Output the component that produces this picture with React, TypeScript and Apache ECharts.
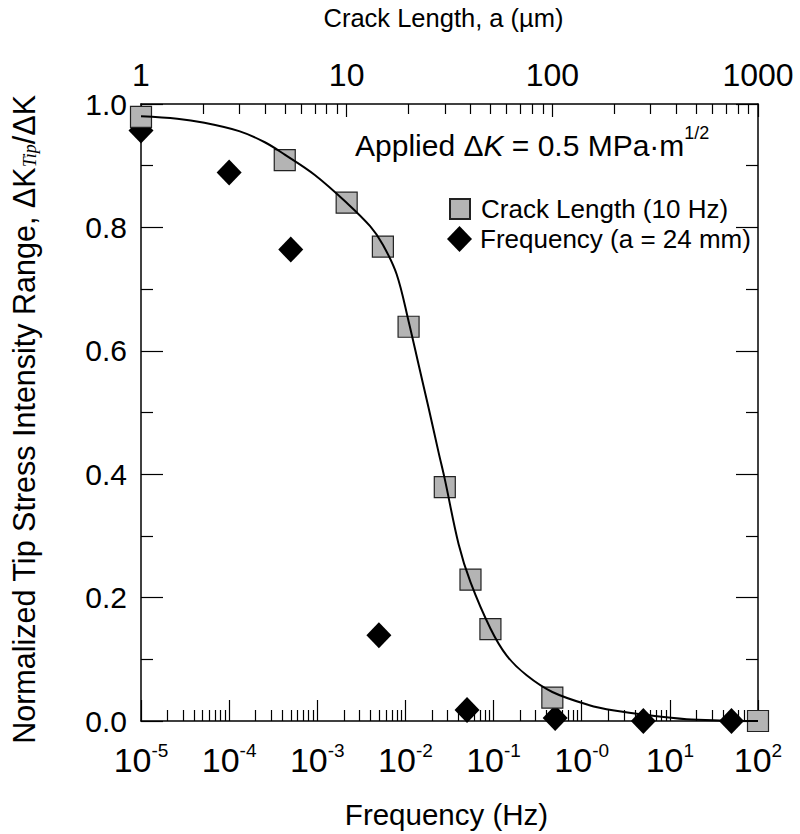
import React, { useEffect, useRef } from 'react';
import * as echarts from 'echarts';

// Crack-length data (top axis, µm) – squares
const crackLength = [1, 5, 10, 15, 20, 30, 40, 50, 100, 1000];
const crackKRatio = [0.979, 0.909, 0.84, 0.769, 0.639, 0.379, 0.229, 0.149, 0.038, 0.0];

// Frequency data (bottom axis, Hz) – diamonds
const frequency = [1e-5, 1e-4, 5e-4, 5e-3, 0.05, 0.5, 5, 50];
const freqKRatio = [0.957, 0.889, 0.764, 0.139, 0.018, 0.005, 0.0, 0.0];

// Fitted curve (vs crack length)
const fitCrackLength = [1, 1.5, 2, 3, 4, 5, 7, 10, 13, 15, 17.5, 20, 22.5, 25, 28, 30, 35, 40, 50, 60, 75, 100, 150, 200, 300, 450, 650, 1000];
const fitKRatio = [0.98, 0.976, 0.97, 0.956, 0.938, 0.918, 0.885, 0.84, 0.802, 0.772, 0.724, 0.648, 0.574, 0.508, 0.435, 0.392, 0.287, 0.225, 0.15, 0.106, 0.074, 0.047, 0.026, 0.017, 0.009, 0.003, 0.001, 0.0];

// Axis tick settings
const bottomDecades = [-5, -4, -3, -2, -1, 0, 1];
const topDecades = [0, 1, 2];
const minorMultipliers = [2, 3, 4, 5, 6, 7, 8, 9];

const FONT = '"Liberation Sans", Arial, Helvetica, sans-serif';
const SERIF = '"Liberation Serif", "Times New Roman", serif';

function minorExps(decades: number[]) {
  const out: number[] = [];
  decades.forEach((k) => minorMultipliers.forEach((m) => out.push(k + Math.log10(m))));
  return out;
}

export default function App() {
  const ref = useRef<HTMLDivElement>(null);
  useEffect(() => {
    if (!ref.current) return;
    const chart = echarts.init(ref.current, null, { renderer: 'svg' });
    const black = '#000';
    const gridBox = { left: 128, top: 93, width: 630, height: 629 };
    const axisLine = { show: true, onZero: false, lineStyle: { color: black, width: 1.5 } };
    const option: any = {
      animation: false,
      backgroundColor: '#fff',
      textStyle: { fontFamily: FONT, color: black },
      grid: { ...gridBox, containLabel: false },
      legend: [
        {
          data: [{ name: 'Crack Length (10 Hz)', icon: 'rect' }],
          left: 444,
          top: 191,
          itemWidth: 20,
          itemHeight: 20,
          textStyle: { fontFamily: FONT, fontSize: 26, color: black, padding: [0, 0, 0, 6] },
        },
        {
          data: [{ name: 'Frequency (a = 24 mm)', icon: 'diamond' }],
          left: 442,
          top: 221,
          itemWidth: 25,
          itemHeight: 26,
          textStyle: { fontFamily: FONT, fontSize: 26, color: black, padding: [0, 0, 0, 3] },
        },
      ],
      xAxis: [
        {
          type: 'log',
          logBase: 10,
          min: 1e-5,
          max: 100,
          interval: 1,
          position: 'bottom',
          name: 'Frequency (Hz)',
          nameLocation: 'middle',
          nameGap: 78,
          nameTextStyle: { fontFamily: FONT, fontSize: 29.5, color: black, padding: [0, 6, 0, 0] },
          axisLine,
          axisTick: { show: true, inside: true, length: 21, lineStyle: { color: black, width: 1.2 } },
          splitLine: { show: false },
          axisLabel: {
            margin: 20,
            formatter: (v: number) => {
              const e = Math.round(Math.log10(v));
              return `{b|10}{s|${e === 0 ? '-0' : e}}`;
            },
            rich: {
              b: { fontFamily: FONT, fontSize: 34, color: black, lineHeight: 36, verticalAlign: 'bottom' },
              s: { fontFamily: FONT, fontSize: 19, color: black, lineHeight: 36, verticalAlign: 'top' },
            },
          },
        },
        {
          type: 'log',
          logBase: 10,
          min: 1,
          max: 1000,
          interval: 1,
          position: 'top',
          name: 'Crack Length, a (µm)',
          nameLocation: 'middle',
          nameGap: 73,
          nameTextStyle: { fontFamily: FONT, fontSize: 25.5, color: black, padding: [0, 12, 0, 0] },
          axisLine,
          axisTick: { show: true, inside: true, length: 13, lineStyle: { color: black, width: 1.2 } },
          splitLine: { show: false },
          axisLabel: {
            margin: 13,
            fontFamily: FONT,
            fontSize: 32,
            color: black,
            formatter: (v: number) => String(Math.round(v)),
          },
        },
        {
          type: 'value',
          min: -5,
          max: 2,
          position: 'bottom',
          axisLine: { show: false, onZero: false },
          axisLabel: { show: false },
          splitLine: { show: false },
          axisTick: {
            show: true,
            inside: true,
            length: 11,
            customValues: minorExps(bottomDecades),
            lineStyle: { color: black, width: 1.2 },
          },
        },
        {
          type: 'value',
          min: 0,
          max: 3,
          position: 'top',
          axisLine: { show: false, onZero: false },
          axisLabel: { show: false },
          splitLine: { show: false },
          axisTick: {
            show: true,
            inside: true,
            length: 10,
            customValues: minorExps(topDecades),
            lineStyle: { color: black, width: 1.2 },
          },
        },
      ],
      yAxis: [
        {
          type: 'value',
          min: 0,
          max: 1,
          interval: 0.2,
          position: 'left',
          name: '{n|Normalized Tip Stress Intensity Range, ΔK}{sub|Tip}{n|/ΔK}',
          nameLocation: 'middle',
          nameRotate: 90,
          nameGap: 102,
          nameTextStyle: {
            padding: [0, 14, 0, 0],
            rich: {
              n: { fontFamily: FONT, fontSize: 30.5, color: black, lineHeight: 34, verticalAlign: 'bottom' },
              sub: { fontFamily: SERIF, fontSize: 18, fontStyle: 'italic', color: black, lineHeight: 42, verticalAlign: 'bottom' },
            },
          },
          axisLine,
          axisTick: { show: true, inside: true, length: 22, lineStyle: { color: black, width: 1.2 } },
          minorTick: { show: true, splitNumber: 2, length: 12, lineStyle: { color: black, width: 1.2 } },
          splitLine: { show: false },
          minorSplitLine: { show: false },
          axisLabel: {
            margin: 14,
            fontFamily: FONT,
            fontSize: 30,
            color: black,
            formatter: (v: number) => v.toFixed(1),
          },
        },
        {
          type: 'value',
          min: 0,
          max: 1,
          interval: 0.2,
          position: 'right',
          axisLine,
          axisTick: { show: true, inside: true, length: 22, lineStyle: { color: black, width: 1.2 } },
          minorTick: { show: true, splitNumber: 2, length: 12, lineStyle: { color: black, width: 1.2 } },
          splitLine: { show: false },
          minorSplitLine: { show: false },
          axisLabel: { show: false },
        },
      ],
      graphic: [
        {
          type: 'text',
          left: 355,
          top: 124,
          style: {
            text: '{n|Applied Δ}{i|K}{n| = 0.5 MPa·m}{s|1/2}',
            rich: {
              n: { fontFamily: FONT, fontSize: 30, fill: black, lineHeight: 36, verticalAlign: 'bottom' },
              i: { fontFamily: FONT, fontSize: 30, fontStyle: 'italic', fill: black, lineHeight: 36, verticalAlign: 'bottom' },
              s: { fontFamily: FONT, fontSize: 18, fill: black, lineHeight: 36, verticalAlign: 'top' },
            },
          },
        },
      ],
      series: [
        {
          name: 'Frequency (a = 24 mm)',
          type: 'scatter',
          xAxisIndex: 0,
          yAxisIndex: 0,
          data: frequency.map((f, i) => [f, freqKRatio[i]]),
          symbol: 'diamond',
          symbolSize: [25, 26],
          clip: false,
          itemStyle: { color: '#000', opacity: 1 },
          z: 2,
        },
        {
          name: 'Crack Length (10 Hz)',
          type: 'scatter',
          xAxisIndex: 1,
          yAxisIndex: 0,
          data: crackLength.map((a, i) => [a, crackKRatio[i]]),
          symbol: 'rect',
          symbolSize: 21,
          clip: false,
          itemStyle: { color: '#b4b4b4', borderColor: '#222', borderWidth: 1.2, opacity: 1 },
          z: 3,
        },
        {
          name: 'fit',
          type: 'line',
          xAxisIndex: 1,
          yAxisIndex: 0,
          data: fitCrackLength.map((a, i) => [a, fitKRatio[i]]),
          showSymbol: false,
          smooth: 0.35,
          lineStyle: { color: black, width: 2 },
          z: 4,
          silent: true,
        },
      ],
    };
    chart.setOption(option);
    return () => chart.dispose();
  }, []);
  return (
    <div
      ref={ref}
      style={{ position: 'fixed', left: 0, top: 0, width: 800, height: 834, background: '#fff' }}
    />
  );
}
